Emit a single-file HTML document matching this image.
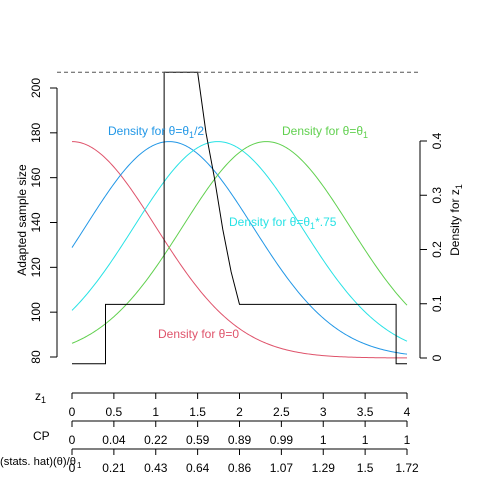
<!DOCTYPE html>
<html><head><meta charset="utf-8"><style>
body{margin:0;background:#fff}
svg{font-family:"Liberation Sans",sans-serif;font-size:12px}
</style></head><body>
<svg id="c" width="480" height="480" xmlns="http://www.w3.org/2000/svg"></svg>
<script>
const means=[0,1.16,1.74,2.32];
const colors=["#DF536B","#2297E6","#28E2E5","#61D04F"];
const stepX=[0,0.4,0.4,1.1,1.1,1.5,1.6,1.7,1.8,1.9,2.0,3.87,3.87,4];
const stepY=[77,77,103.5,103.5,207,207,180,160,137,118,103.5,103.5,77,77];
const leftTicks=[80,100,120,140,160,180,200];
const rightTicks=[0,0.1,0.2,0.3,0.4];
const zTicks=[0,0.5,1,1.5,2,2.5,3,3.5,4];
const cpLabels=["0","0.04","0.22","0.59","0.89","0.99","1","1","1"];
const thLabels=["0","0.21","0.43","0.64","0.86","1.07","1.29","1.5","1.72"];
const maxN=207;
const svg=document.getElementById('c');
const NS="http://www.w3.org/2000/svg";
const X=v=>72+v*83.75, YL=v=>357-(v-80)*2.2417, YR=v=>358-v*542.5;
function el(t,a,txt){const e=document.createElementNS(NS,t);for(const k in a)e.setAttribute(k,a[k]);if(txt!=null)e.textContent=txt;svg.appendChild(e);return e;}
function dn(x){return Math.exp(-x*x/2)/Math.sqrt(2*Math.PI);}
means.forEach((m,i)=>{let d="";for(let k=0;k<=200;k++){const x=4*k/200;d+=(k?"L":"M")+X(x).toFixed(2)+","+YR(dn(x-m)).toFixed(2);}
const p=el('path',{d,fill:"none",stroke:colors[i],"stroke-width":1});

});
{let d="";stepX.forEach((x,i)=>{d+=(i?"L":"M")+X(x)+","+YL(stepY[i]);});
const p=el('path',{d,fill:"none",stroke:"#000","stroke-width":1});

}
{const l=el('line',{x1:57,x2:420,y1:YL(maxN),y2:YL(maxN),stroke:"#555","stroke-dasharray":"4,3"});

}
el('line',{x1:57,x2:57,y1:YL(80),y2:YL(200),stroke:"#000"});
leftTicks.forEach(v=>{const y=YL(v);el('line',{x1:50,x2:57,y1:y,y2:y,stroke:"#000"});
const t=el('text',{x:40,y:y,"text-anchor":"middle",transform:`rotate(-90 40 ${y})`},v);

});
el('text',{x:26,y:220,"text-anchor":"middle",transform:"rotate(-90 26 220)"},"Adapted sample size");
el('line',{x1:420,x2:420,y1:YR(0),y2:YR(0.4),stroke:"#000"});
rightTicks.forEach(v=>{const y=YR(v);el('line',{x1:420,x2:427,y1:y,y2:y,stroke:"#000"});
const t=el('text',{x:441,y:y,"text-anchor":"middle",transform:`rotate(-90 441 ${y})`},v);

});
{const t=el('text',{x:459,y:220,"text-anchor":"middle",transform:"rotate(-90 459 220)"});t.innerHTML='Density for z<tspan font-size="9" dy="3">1</tspan>';}
function axis(y,labels,name){el('line',{x1:X(0),x2:X(4),y1:y,y2:y,stroke:"#000"});
zTicks.forEach((z,i)=>{el('line',{x1:X(z),x2:X(z),y1:y,y2:y+6,stroke:"#000"});
const t=el('text',{x:X(z),y:y+23,"text-anchor":"middle"},labels[i]);

});}
axis(393,zTicks.map(String),'z1-axis');
axis(421,cpLabels,'cp-axis');
axis(449,thLabels,'theta-axis');
{const t=el('text',{x:35,y:400});t.innerHTML='z<tspan font-size="9" dy="3">1</tspan>';}
el('text',{x:33,y:440},"CP");
{const t=el('text',{x:0,y:465,"font-size":"11",textLength:"76",lengthAdjust:"spacingAndGlyphs"},'(stats. hat)(θ)/θ');
el('text',{x:77,y:468,"font-size":"8"},'1');}
function lab(x,y,c,html,n){const t=el('text',{x,y,fill:c});t.innerHTML=html;}
lab(108,135,colors[1],'Density for θ=θ<tspan font-size="9" dy="3">1</tspan><tspan dy="-3">/2</tspan>','label-half');
lab(282,135,colors[3],'Density for θ=θ<tspan font-size="9" dy="3">1</tspan>','label-theta1');
lab(229,226,colors[2],'Density for θ=θ<tspan font-size="9" dy="3">1</tspan><tspan dy="-3">*.75</tspan>','label-075');
lab(158,338,colors[0],'Density for θ=0','label-zero');
</script>
</body></html>
